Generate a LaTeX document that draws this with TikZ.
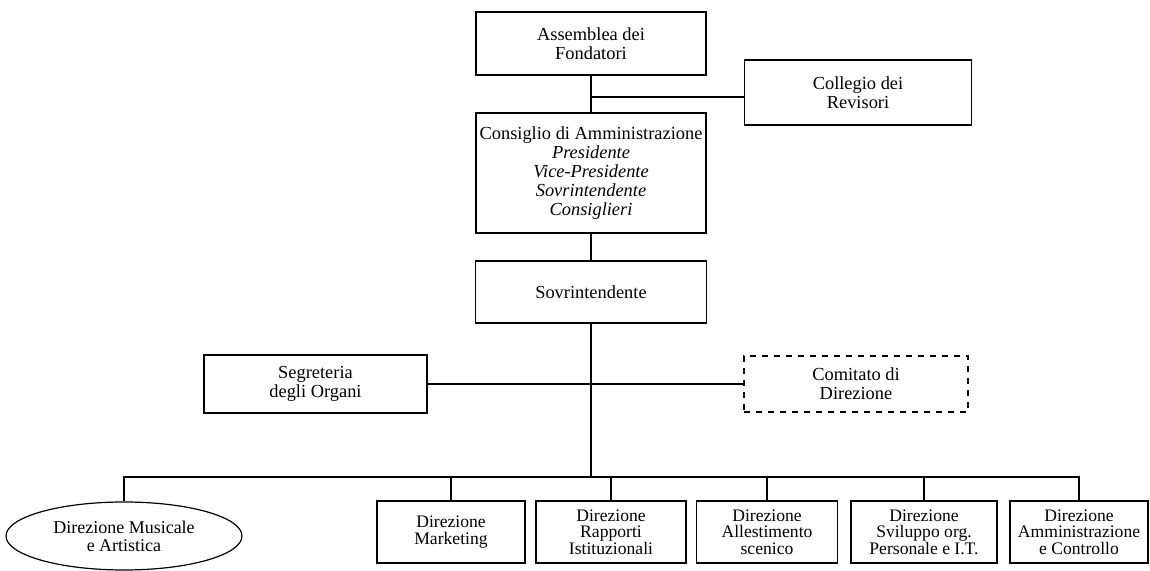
\documentclass[tikz,border=0pt]{standalone}
\usepackage{fontspec}
\setmainfont{Liberation Serif}
\usetikzlibrary{shapes.geometric}

\newcommand\dirfont{\fontsize{8.8}{8.3}\selectfont\lineskiplimit=-5pt\relax}

\begin{document}
\begin{tikzpicture}[x=0.5pt,y=-0.5pt,
	orgbox/.style={draw, rectangle, align=center, inner sep=1pt,
		font=\fontsize{9.2}{9.5}\selectfont, line width=0.6pt},
	dirbox/.style={orgbox, minimum height=31pt, font=\dirfont},
	dashbox/.style={orgbox, dashed},
	ovalbox/.style={draw, ellipse, align=center, inner sep=0pt,
		minimum width=118pt, minimum height=34pt,
		font=\fontsize{9}{9}\selectfont, line width=0.6pt}]

	\useasboundingbox (0,0) rectangle (1150,571);

	% vertice
	\node[orgbox, minimum width=115pt, minimum height=31.5pt] at (591,43.5) (asm)
		{Assemblea dei\\Fondatori};
	\node[orgbox, minimum width=113.5pt, minimum height=32.5pt] at (858,92.5) (col)
		{Collegio dei\\Revisori};
	\node[orgbox, minimum width=115pt, minimum height=60pt] at (591,173) (cda)
		{Consiglio di Amministrazione\\\textit{Presidente}\\\textit{Vice-Presidente}\\
		\textit{Sovrintendente}\\\textit{Consiglieri}};
	\node[orgbox, minimum width=115.5pt, minimum height=31pt] at (591,292) (sov)
		{Sovrintendente};

	% staff
	\node[orgbox, minimum width=111.5pt, minimum height=29pt] at (315.5,384) (seg)
		{Segreteria\\degli Organi};
	\node[dashbox, minimum width=112pt, minimum height=28pt] at (856,384) (com)
		{Comitato di\\Direzione};

	% direzioni
	\node[ovalbox] at (124,536) (dma) {Direzione Musicale\\e Artistica};
	\node[dirbox, minimum width=74pt] at (451,532) (mkt)
		{Direzione\\Marketing};
	\node[dirbox, minimum width=75pt] at (611,532) (rap)
		{Direzione\\Rapporti\\Istituzionali};
	\node[dirbox, minimum width=70.5pt] at (767,532) (all)
		{Direzione\\Allestimento\\scenico};
	\node[dirbox, minimum width=73pt] at (924,532) (svi)
		{Direzione\\Sviluppo org.\\Personale e I.T.};
	\node[dirbox, minimum width=69pt] at (1079,532) (amm)
		{Direzione\\Amministrazione\\e Controllo};

	\coordinate (j1) at (591,97);
	\coordinate (bus) at (591,477);

\begin{scope}[line width=0.6pt]
	\draw (asm) -- (cda);
	\draw (j1) -- (j1 -| col.west);
	\draw (cda) -- (sov);
	\draw (sov) -- (bus);
	\draw (seg.east) -- (com.west);
	\draw (dma.north) |- (bus) -| (amm.north);
	\foreach \d in {mkt,rap,all,svi}
		\draw (\d.north) -- (\d.north |- bus);
\end{scope}

\end{tikzpicture}
\end{document}
